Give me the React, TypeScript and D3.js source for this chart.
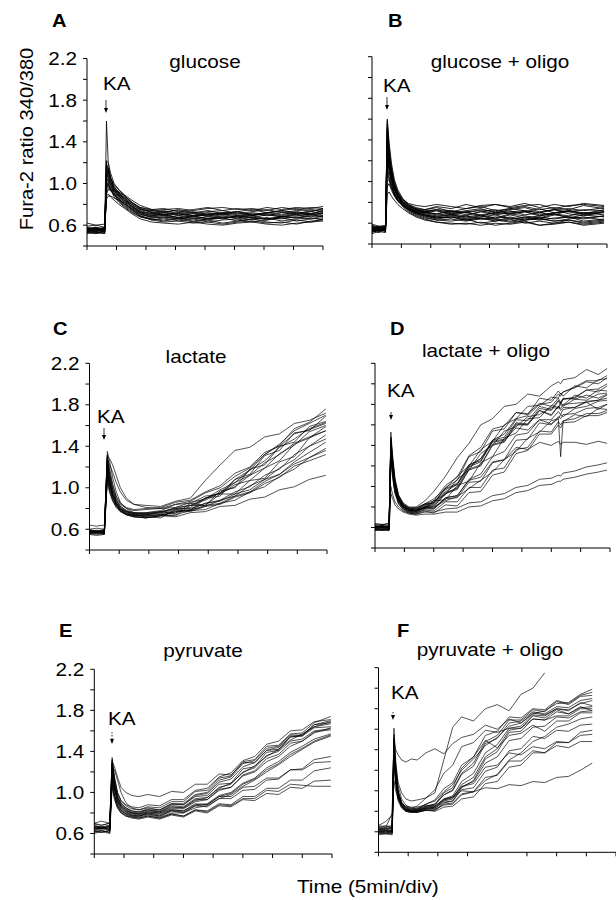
import React from 'react';
import * as d3 from 'd3';

// time points in minutes (5 min per division, 8 divisions)
const timeA = [0, 1.5, 3.0, 3.3, 3.6, 4.0, 4.6, 5.4, 6.4, 7.6, 9, 11, 13, 15.5, 18, 20.5, 23, 25.5, 28, 30.5, 33, 35.5, 38, 40];
const tracesA = [
  [0.56,0.54,0.56,1.60,1.20,1.05,0.95,0.90,0.84,0.78,0.74,0.71,0.73,0.70,0.72,0.69,0.71,0.73,0.70,0.72,0.70,0.73,0.71,0.74],
  [0.54,0.56,0.54,1.22,1.20,1.10,1.00,0.94,0.88,0.82,0.76,0.72,0.74,0.71,0.69,0.72,0.70,0.68,0.71,0.69,0.72,0.70,0.73,0.71],
  [0.55,0.53,0.54,1.20,1.12,1.02,0.94,0.88,0.83,0.78,0.72,0.69,0.71,0.67,0.69,0.66,0.68,0.67,0.69,0.66,0.68,0.67,0.69,0.68],
  [0.58,0.56,0.58,1.08,1.15,1.05,0.97,0.92,0.87,0.82,0.77,0.74,0.72,0.75,0.72,0.74,0.71,0.73,0.75,0.72,0.74,0.76,0.73,0.76],
  [0.52,0.53,0.52,1.00,0.98,0.94,0.89,0.84,0.79,0.74,0.69,0.66,0.64,0.66,0.63,0.65,0.62,0.64,0.66,0.63,0.62,0.65,0.63,0.66],
  [0.56,0.58,0.55,0.95,1.02,1.00,0.95,0.91,0.86,0.81,0.77,0.75,0.76,0.73,0.75,0.77,0.74,0.76,0.74,0.77,0.75,0.77,0.76,0.78],
  [0.57,0.55,0.57,1.05,1.02,0.94,0.87,0.82,0.77,0.72,0.68,0.65,0.67,0.64,0.66,0.63,0.65,0.66,0.63,0.65,0.67,0.64,0.66,0.67],
  [0.54,0.56,0.55,0.92,0.95,0.93,0.90,0.86,0.82,0.77,0.72,0.69,0.70,0.67,0.69,0.70,0.67,0.69,0.67,0.70,0.68,0.69,0.71,0.69],
  [0.55,0.57,0.54,0.98,1.12,1.06,0.99,0.94,0.89,0.84,0.79,0.75,0.73,0.74,0.71,0.73,0.74,0.71,0.73,0.75,0.72,0.74,0.75,0.73],
  [0.53,0.54,0.52,0.88,0.90,0.87,0.84,0.80,0.76,0.71,0.66,0.63,0.62,0.61,0.63,0.61,0.60,0.62,0.63,0.61,0.60,0.62,0.63,0.64],
  [0.59,0.60,0.58,1.02,1.04,0.98,0.93,0.88,0.83,0.78,0.73,0.71,0.69,0.71,0.68,0.70,0.71,0.69,0.72,0.70,0.68,0.71,0.70,0.72],
  [0.56,0.57,0.57,0.85,0.88,0.88,0.86,0.84,0.81,0.76,0.71,0.68,0.69,0.66,0.68,0.66,0.69,0.66,0.68,0.65,0.68,0.67,0.70,0.68],
  [0.55,0.54,0.55,1.12,1.10,1.02,0.95,0.89,0.84,0.80,0.75,0.73,0.70,0.72,0.73,0.70,0.72,0.73,0.70,0.72,0.74,0.72,0.71,0.74],
  [0.54,0.52,0.55,0.94,0.97,0.94,0.89,0.83,0.78,0.73,0.68,0.66,0.65,0.67,0.64,0.66,0.67,0.64,0.66,0.67,0.64,0.66,0.67,0.65],
  [0.62,0.60,0.61,0.90,0.94,0.94,0.93,0.92,0.88,0.82,0.76,0.72,0.70,0.72,0.69,0.71,0.72,0.70,0.69,0.72,0.73,0.71,0.74,0.75],
  [0.57,0.56,0.57,1.15,1.08,0.98,0.91,0.85,0.80,0.75,0.70,0.68,0.67,0.69,0.66,0.68,0.66,0.69,0.67,0.66,0.68,0.70,0.68,0.71],
  [0.55,0.57,0.56,1.18,1.14,1.05,0.97,0.91,0.85,0.79,0.73,0.70,0.72,0.69,0.71,0.68,0.70,0.72,0.69,0.71,0.69,0.72,0.70,0.72],
  [0.53,0.52,0.53,0.96,0.99,0.96,0.92,0.87,0.81,0.75,0.69,0.65,0.63,0.64,0.62,0.63,0.61,0.63,0.64,0.62,0.63,0.61,0.64,0.65],
  [0.57,0.58,0.56,1.10,1.06,0.99,0.93,0.89,0.86,0.80,0.75,0.74,0.75,0.76,0.74,0.76,0.77,0.75,0.76,0.74,0.77,0.75,0.77,0.76],
  [0.54,0.55,0.54,1.00,1.00,0.95,0.90,0.85,0.80,0.76,0.71,0.67,0.68,0.66,0.67,0.65,0.67,0.68,0.65,0.67,0.66,0.68,0.66,0.69],
];

const timeB = [0, 1.2, 2.3, 2.6, 2.9, 3.3, 3.8, 4.4, 5.2, 6.2, 7.5, 9, 11, 13.5, 16, 18.5, 21, 23.5, 26, 28.5, 31, 33.5, 36, 39.5];
const tracesB = [
  [0.54,0.52,0.55,1.60,1.38,1.18,1.02,0.92,0.84,0.78,0.74,0.71,0.72,0.68,0.71,0.67,0.70,0.72,0.68,0.70,0.73,0.69,0.67,0.71],
  [0.51,0.54,0.53,1.55,1.30,1.12,0.98,0.89,0.81,0.76,0.71,0.68,0.66,0.68,0.65,0.67,0.64,0.68,0.65,0.67,0.69,0.65,0.68,0.66],
  [0.57,0.55,0.56,1.50,1.28,1.10,0.96,0.88,0.82,0.78,0.75,0.73,0.75,0.71,0.74,0.76,0.72,0.74,0.76,0.73,0.75,0.73,0.77,0.74],
  [0.53,0.51,0.54,1.45,1.22,1.05,0.94,0.86,0.79,0.74,0.70,0.67,0.64,0.66,0.63,0.65,0.62,0.66,0.63,0.65,0.62,0.64,0.66,0.63],
  [0.55,0.57,0.54,1.40,1.20,1.06,0.95,0.87,0.81,0.77,0.73,0.71,0.69,0.72,0.68,0.71,0.73,0.69,0.71,0.74,0.70,0.72,0.69,0.73],
  [0.58,0.56,0.57,1.35,1.18,1.04,0.93,0.85,0.78,0.73,0.69,0.66,0.63,0.62,0.64,0.60,0.62,0.64,0.60,0.62,0.60,0.63,0.60,0.62],
  [0.54,0.56,0.53,1.30,1.15,1.02,0.92,0.86,0.80,0.76,0.74,0.73,0.76,0.74,0.78,0.75,0.78,0.76,0.79,0.75,0.78,0.76,0.79,0.77],
  [0.50,0.52,0.51,1.25,1.10,0.98,0.88,0.82,0.76,0.71,0.67,0.64,0.61,0.60,0.59,0.61,0.58,0.60,0.62,0.58,0.60,0.61,0.59,0.61],
  [0.56,0.55,0.57,1.20,1.12,1.00,0.90,0.83,0.78,0.74,0.71,0.69,0.67,0.68,0.66,0.68,0.65,0.69,0.67,0.65,0.69,0.67,0.70,0.68],
  [0.55,0.53,0.55,1.15,1.05,0.96,0.88,0.82,0.77,0.73,0.70,0.68,0.65,0.67,0.64,0.66,0.68,0.64,0.66,0.64,0.68,0.66,0.64,0.67],
  [0.53,0.54,0.52,1.10,1.02,0.94,0.87,0.81,0.77,0.74,0.71,0.70,0.72,0.69,0.71,0.72,0.69,0.71,0.72,0.70,0.68,0.72,0.70,0.71],
  [0.59,0.57,0.58,0.95,0.98,0.92,0.86,0.81,0.78,0.75,0.72,0.71,0.73,0.70,0.72,0.74,0.70,0.73,0.75,0.71,0.73,0.74,0.72,0.75],
  [0.52,0.53,0.54,0.88,0.90,0.86,0.82,0.78,0.74,0.70,0.66,0.63,0.61,0.59,0.60,0.58,0.60,0.59,0.61,0.58,0.59,0.61,0.58,0.60],
  [0.55,0.57,0.56,1.48,1.25,1.08,0.96,0.87,0.80,0.75,0.72,0.70,0.68,0.69,0.67,0.71,0.68,0.70,0.71,0.67,0.70,0.71,0.68,0.70],
  [0.54,0.53,0.55,1.42,1.24,1.08,0.97,0.89,0.83,0.79,0.77,0.76,0.78,0.76,0.74,0.77,0.78,0.75,0.77,0.78,0.74,0.77,0.78,0.76],
  [0.56,0.54,0.55,1.32,1.16,1.03,0.92,0.84,0.78,0.73,0.69,0.67,0.65,0.66,0.63,0.65,0.64,0.62,0.65,0.63,0.65,0.66,0.62,0.64],
  [0.53,0.55,0.54,1.58,1.34,1.14,1.00,0.90,0.83,0.77,0.73,0.70,0.69,0.71,0.70,0.68,0.70,0.69,0.71,0.68,0.70,0.72,0.69,0.71],
  [0.57,0.55,0.56,1.52,1.27,1.09,0.95,0.86,0.79,0.74,0.70,0.68,0.66,0.65,0.67,0.64,0.66,0.65,0.63,0.66,0.64,0.66,0.65,0.67],
  [0.52,0.54,0.52,1.38,1.20,1.04,0.93,0.85,0.80,0.76,0.73,0.72,0.73,0.72,0.70,0.73,0.71,0.74,0.72,0.70,0.73,0.71,0.73,0.72],
  [0.55,0.56,0.55,1.00,1.02,0.95,0.88,0.82,0.77,0.72,0.68,0.65,0.63,0.64,0.62,0.64,0.63,0.61,0.63,0.64,0.62,0.63,0.61,0.63],
];

const timeC = [0, 1.2, 2.5, 3.0, 3.4, 3.9, 4.5, 5.2, 6.2, 7.5, 9.5, 12, 14.5, 17, 19.5, 22, 24.5, 27, 29.5, 32, 34.5, 37, 39.8];
const tracesC = [
  [0.58,0.57,0.58,1.28,1.22,1.15,1.05,0.96,0.88,0.84,0.83,0.82,0.87,0.90,1.07,1.22,1.36,1.39,1.49,1.52,1.62,1.65,1.72],
  [0.57,0.59,0.57,1.35,1.25,1.10,0.96,0.86,0.80,0.76,0.74,0.76,0.79,0.81,0.90,0.95,1.08,1.17,1.32,1.41,1.57,1.63,1.76],
  [0.60,0.58,0.60,1.30,1.12,0.98,0.88,0.82,0.78,0.74,0.72,0.74,0.73,0.83,0.83,0.97,1.00,1.18,1.22,1.40,1.44,1.59,1.64],
  [0.56,0.55,0.56,1.25,1.08,0.95,0.86,0.80,0.76,0.73,0.72,0.71,0.79,0.78,0.90,0.92,1.08,1.13,1.31,1.36,1.53,1.55,1.69],
  [0.58,0.57,0.58,1.20,1.05,0.93,0.85,0.79,0.75,0.73,0.74,0.77,0.75,0.85,0.83,0.94,0.94,1.07,1.09,1.25,1.30,1.48,1.55],
  [0.55,0.56,0.55,1.15,1.02,0.92,0.84,0.78,0.74,0.72,0.71,0.73,0.77,0.79,0.85,0.88,0.96,1.01,1.12,1.18,1.32,1.40,1.51],
  [0.59,0.58,0.59,1.28,1.15,1.02,0.91,0.84,0.80,0.78,0.79,0.80,0.84,0.85,0.92,0.94,1.03,1.07,1.19,1.26,1.42,1.48,1.59],
  [0.57,0.58,0.57,1.10,0.98,0.89,0.82,0.77,0.74,0.72,0.71,0.73,0.74,0.78,0.79,0.85,0.88,0.96,1.01,1.11,1.18,1.29,1.36],
  [0.56,0.57,0.56,1.22,1.06,0.94,0.85,0.80,0.77,0.75,0.74,0.75,0.78,0.78,0.83,0.85,0.92,0.96,1.06,1.13,1.25,1.34,1.44],
  [0.64,0.63,0.64,1.05,0.95,0.87,0.81,0.77,0.74,0.72,0.71,0.73,0.72,0.76,0.77,0.82,0.83,0.89,0.91,0.98,1.01,1.08,1.12],
  [0.58,0.59,0.58,1.32,1.18,1.04,0.92,0.85,0.81,0.79,0.80,0.81,0.86,0.88,0.96,1.02,1.14,1.20,1.34,1.40,1.52,1.56,1.62],
  [0.57,0.56,0.57,1.18,1.04,0.93,0.85,0.80,0.77,0.76,0.76,0.77,0.80,0.80,0.85,0.87,0.94,0.98,1.08,1.13,1.23,1.29,1.38],
  [0.60,0.61,0.60,1.30,1.28,1.22,1.12,1.00,0.90,0.84,0.81,0.80,0.81,0.86,0.89,0.98,1.05,1.17,1.26,1.39,1.47,1.57,1.63],
  [0.55,0.54,0.55,1.12,1.00,0.90,0.83,0.78,0.75,0.74,0.75,0.76,0.81,0.83,0.90,0.95,1.05,1.12,1.24,1.32,1.43,1.49,1.55],
  [0.58,0.57,0.58,1.24,1.10,0.97,0.87,0.81,0.77,0.75,0.76,0.78,0.84,0.87,0.95,1.00,1.11,1.19,1.32,1.42,1.55,1.62,1.70],
  [0.56,0.57,0.56,1.08,0.97,0.88,0.82,0.78,0.75,0.73,0.73,0.74,0.77,0.77,0.82,0.84,0.91,0.95,1.04,1.10,1.21,1.26,1.32],
  [0.57,0.58,0.57,1.26,1.12,0.99,0.89,0.82,0.78,0.76,0.75,0.77,0.80,0.83,0.88,0.95,1.01,1.12,1.19,1.33,1.41,1.54,1.60],
  [0.59,0.57,0.59,1.16,1.03,0.92,0.84,0.79,0.76,0.74,0.73,0.74,0.76,0.79,0.82,0.88,0.92,1.02,1.08,1.19,1.27,1.40,1.47],
];

const timeD = [0, 1.2, 2.4, 2.7, 3.0, 3.4, 4.0, 4.8, 5.8, 7, 8.5, 10, 12, 14, 16, 18, 20, 22, 24, 26, 28, 30, 31.2, 31.6, 32, 34, 36, 38, 39.5];
const tracesD = [
  [0.60,0.62,0.60,1.53,1.30,1.08,0.92,0.84,0.80,0.80,0.86,0.95,1.10,1.28,1.42,1.60,1.66,1.78,1.80,1.90,1.88,1.98,2.02,2.00,2.04,2.06,2.14,2.09,2.15],
  [0.62,0.60,0.62,1.45,1.25,1.05,0.90,0.82,0.78,0.77,0.82,0.84,0.99,1.06,1.29,1.34,1.54,1.56,1.72,1.70,1.86,1.84,1.93,1.90,1.92,1.97,2.03,2.03,2.08],
  [0.58,0.60,0.58,1.40,1.22,1.02,0.88,0.80,0.76,0.75,0.79,0.80,0.93,0.99,1.19,1.24,1.44,1.46,1.62,1.61,1.76,1.74,1.83,1.80,1.85,1.86,1.94,1.92,1.98],
  [0.60,0.61,0.60,1.38,1.18,0.98,0.86,0.79,0.76,0.77,0.79,0.86,0.92,1.07,1.16,1.32,1.40,1.54,1.58,1.68,1.70,1.77,1.76,1.80,1.78,1.85,1.84,1.90,1.91],
  [0.63,0.62,0.64,1.42,1.20,1.00,0.88,0.81,0.78,0.79,0.78,0.86,0.87,1.01,1.05,1.23,1.29,1.47,1.52,1.66,1.67,1.79,1.77,1.82,1.79,1.89,1.86,1.94,1.93],
  [0.59,0.57,0.59,1.35,1.15,0.97,0.86,0.80,0.77,0.76,0.80,0.79,0.89,0.91,1.07,1.12,1.29,1.34,1.50,1.52,1.65,1.65,1.73,1.70,1.75,1.77,1.83,1.84,1.89],
  [0.61,0.62,0.61,1.36,1.16,0.99,0.87,0.80,0.77,0.77,0.82,0.84,0.98,1.03,1.21,1.27,1.43,1.45,1.57,1.55,1.65,1.61,1.66,1.29,1.63,1.70,1.68,1.76,1.75],
  [0.57,0.58,0.57,1.30,1.12,0.95,0.84,0.78,0.75,0.74,0.78,0.78,0.89,0.91,1.06,1.09,1.24,1.26,1.38,1.36,1.43,1.40,1.44,1.41,1.43,1.43,1.41,1.44,1.42],
  [0.60,0.59,0.60,1.00,0.92,0.85,0.80,0.76,0.74,0.73,0.75,0.75,0.78,0.79,0.84,0.85,0.91,0.93,0.99,1.01,1.07,1.08,1.11,1.10,1.13,1.15,1.19,1.21,1.23],
  [0.58,0.57,0.58,0.93,0.88,0.82,0.78,0.75,0.73,0.72,0.73,0.73,0.75,0.75,0.80,0.81,0.86,0.88,0.94,0.96,1.01,1.02,1.05,1.05,1.07,1.09,1.12,1.14,1.16],
  [0.61,0.60,0.61,1.44,1.24,1.03,0.89,0.81,0.77,0.76,0.80,0.81,0.93,0.97,1.16,1.20,1.40,1.43,1.60,1.60,1.74,1.70,1.78,1.76,1.80,1.81,1.82,1.84,1.86],
  [0.59,0.60,0.59,1.32,1.14,0.96,0.85,0.79,0.76,0.75,0.79,0.78,0.88,0.89,1.04,1.05,1.23,1.26,1.45,1.46,1.62,1.60,1.68,1.66,1.70,1.71,1.76,1.77,1.80],
  [0.62,0.63,0.62,1.47,1.26,1.05,0.91,0.83,0.79,0.79,0.83,0.88,0.98,1.10,1.20,1.36,1.44,1.60,1.66,1.78,1.79,1.87,1.86,1.91,1.88,1.98,1.96,2.04,2.05],
  [0.57,0.58,0.57,1.28,1.10,0.94,0.84,0.78,0.75,0.74,0.77,0.76,0.85,0.85,0.99,0.99,1.16,1.18,1.36,1.38,1.54,1.53,1.63,1.60,1.64,1.66,1.71,1.71,1.74],
  [0.60,0.61,0.60,1.38,1.19,1.00,0.87,0.80,0.77,0.76,0.81,0.82,0.94,0.98,1.17,1.21,1.41,1.44,1.61,1.60,1.74,1.69,1.78,1.74,1.77,1.77,1.82,1.75,1.80],
  [0.64,0.63,0.64,1.40,1.21,1.02,0.89,0.82,0.79,0.79,0.83,0.84,0.97,1.02,1.21,1.25,1.45,1.48,1.65,1.64,1.78,1.75,1.84,1.81,1.85,1.87,1.94,1.95,2.00],
  [0.58,0.59,0.58,1.25,1.08,0.93,0.83,0.77,0.74,0.73,0.76,0.74,0.82,0.81,0.94,0.95,1.11,1.14,1.32,1.35,1.51,1.51,1.60,1.57,1.62,1.63,1.69,1.69,1.72],
  [0.61,0.60,0.61,1.48,1.27,1.06,0.91,0.83,0.79,0.78,0.83,0.86,1.01,1.09,1.30,1.38,1.56,1.59,1.72,1.71,1.81,1.78,1.86,1.82,1.86,1.85,1.89,1.86,1.90],
  [0.60,0.61,0.60,1.34,1.15,0.98,0.87,0.81,0.78,0.77,0.80,0.80,0.86,0.90,0.98,1.06,1.14,1.26,1.34,1.47,1.53,1.64,1.66,1.70,1.68,1.76,1.78,1.83,1.84],
  [0.59,0.58,0.59,1.42,1.22,1.02,0.88,0.81,0.77,0.76,0.80,0.83,0.95,1.02,1.19,1.27,1.45,1.51,1.66,1.69,1.80,1.82,1.90,1.88,1.92,1.96,2.02,2.00,2.06],
];

const timeE = [0, 1.2, 2.6, 3.0, 3.4, 3.9, 4.5, 5.3, 6.3, 7.5, 9, 11, 13, 15, 17, 19, 21, 23, 25, 27, 29, 31, 33, 35, 37, 39.8];
const tracesE = [
  [0.70,0.68,0.70,1.30,1.25,1.15,1.05,1.00,0.97,0.96,0.98,0.96,1.01,1.00,1.08,1.08,1.18,1.17,1.29,1.29,1.41,1.42,1.55,1.55,1.66,1.70],
  [0.66,0.65,0.67,1.34,1.15,1.00,0.92,0.87,0.84,0.83,0.85,0.83,0.89,0.88,0.96,0.97,1.08,1.09,1.23,1.25,1.39,1.41,1.54,1.56,1.66,1.68],
  [0.63,0.65,0.63,1.28,1.10,0.96,0.89,0.85,0.82,0.81,0.83,0.81,0.86,0.85,0.93,0.93,1.03,1.05,1.16,1.20,1.30,1.35,1.45,1.50,1.58,1.63],
  [0.68,0.66,0.68,1.25,1.22,1.12,1.00,0.90,0.85,0.83,0.86,0.85,0.91,0.91,1.01,1.02,1.14,1.16,1.30,1.32,1.45,1.46,1.57,1.58,1.68,1.74],
  [0.61,0.63,0.61,1.22,1.05,0.92,0.85,0.81,0.78,0.77,0.79,0.77,0.82,0.81,0.87,0.88,0.96,0.99,1.08,1.13,1.22,1.28,1.37,1.43,1.50,1.56],
  [0.65,0.66,0.64,1.20,1.04,0.92,0.86,0.82,0.80,0.79,0.82,0.81,0.87,0.86,0.94,0.95,1.05,1.08,1.20,1.24,1.36,1.40,1.50,1.52,1.60,1.62],
  [0.67,0.65,0.67,1.30,1.12,0.98,0.90,0.85,0.82,0.81,0.84,0.83,0.89,0.89,0.98,1.00,1.12,1.15,1.28,1.31,1.43,1.45,1.56,1.56,1.64,1.67],
  [0.62,0.63,0.61,1.18,1.02,0.90,0.83,0.79,0.77,0.76,0.78,0.76,0.80,0.80,0.85,0.87,0.94,0.98,1.06,1.12,1.20,1.27,1.35,1.42,1.49,1.55],
  [0.64,0.65,0.64,1.15,0.98,0.87,0.81,0.78,0.76,0.75,0.77,0.75,0.79,0.77,0.83,0.82,0.89,0.88,0.96,0.96,1.04,1.04,1.12,1.12,1.21,1.24],
  [0.69,0.68,0.70,1.10,0.96,0.87,0.82,0.79,0.77,0.77,0.79,0.77,0.82,0.80,0.87,0.86,0.94,0.94,1.02,1.03,1.12,1.13,1.22,1.23,1.32,1.35],
  [0.60,0.62,0.60,1.05,0.93,0.85,0.80,0.77,0.75,0.74,0.76,0.74,0.78,0.76,0.82,0.80,0.87,0.86,0.93,0.92,0.99,0.98,1.05,1.04,1.11,1.12],
  [0.66,0.67,0.65,1.12,0.97,0.88,0.83,0.80,0.78,0.77,0.80,0.78,0.83,0.82,0.89,0.88,0.96,0.96,1.05,1.06,1.14,1.14,1.22,1.22,1.29,1.30],
  [0.63,0.61,0.63,1.26,1.08,0.95,0.88,0.84,0.81,0.80,0.83,0.82,0.88,0.88,0.97,0.99,1.10,1.13,1.25,1.29,1.41,1.44,1.54,1.55,1.63,1.64],
  [0.70,0.72,0.70,1.32,1.14,1.00,0.92,0.88,0.86,0.85,0.88,0.87,0.93,0.93,1.02,1.04,1.15,1.19,1.31,1.35,1.47,1.50,1.60,1.61,1.69,1.71],
  [0.62,0.61,0.63,1.08,0.94,0.85,0.80,0.77,0.76,0.75,0.77,0.75,0.79,0.77,0.83,0.81,0.88,0.87,0.94,0.94,1.02,1.01,1.08,1.07,1.06,1.06],
  [0.65,0.64,0.66,1.24,1.07,0.94,0.87,0.83,0.80,0.79,0.81,0.80,0.84,0.84,0.91,0.93,1.02,1.05,1.17,1.21,1.33,1.37,1.48,1.50,1.59,1.61],
  [0.64,0.66,0.64,1.28,1.09,0.95,0.87,0.83,0.80,0.79,0.81,0.80,0.85,0.85,0.92,0.95,1.04,1.09,1.19,1.26,1.35,1.42,1.51,1.57,1.64,1.69],
  [0.67,0.66,0.68,1.20,1.03,0.91,0.85,0.81,0.79,0.78,0.80,0.79,0.83,0.82,0.88,0.89,0.97,1.00,1.09,1.14,1.24,1.30,1.39,1.45,1.52,1.57],
];

const timeF = [0, 1.2, 2.3, 2.6, 2.9, 3.3, 3.9, 4.6, 5.5, 6.5, 8, 9.5, 11, 12.5, 14, 16, 18, 20, 22, 24, 26, 28, 30, 32, 34, 36];
const tracesF = [
  [0.62,0.63,0.64,1.45,1.25,1.08,0.98,0.92,0.90,0.91,0.93,0.98,1.30,1.62,1.72,1.68,1.80,1.84,1.78,1.94,2.00,2.15,null,null,null,null],
  [0.66,0.70,0.76,1.50,1.40,1.35,1.30,1.28,1.31,1.30,1.37,1.41,1.36,1.46,1.52,1.55,1.64,1.60,1.70,1.66,1.76,1.74,1.80,1.78,1.86,1.83],
  [0.60,0.59,0.60,1.10,1.00,0.92,0.87,0.85,0.84,0.84,0.86,0.85,0.91,0.94,1.00,0.99,1.03,1.02,1.06,1.05,1.09,1.08,1.13,1.14,1.20,1.27],
  [0.63,0.62,0.63,1.61,1.30,1.05,0.92,0.86,0.83,0.82,0.85,0.87,0.98,1.03,1.22,1.33,1.54,1.58,1.72,1.71,1.80,1.79,1.88,1.85,1.93,1.96],
  [0.60,0.61,0.60,1.55,1.24,1.00,0.88,0.83,0.81,0.81,0.84,0.86,0.96,1.00,1.16,1.24,1.46,1.51,1.66,1.68,1.77,1.75,1.82,1.81,1.88,1.90],
  [0.65,0.63,0.65,1.50,1.20,0.98,0.87,0.82,0.80,0.80,0.83,0.84,0.92,0.95,1.09,1.17,1.37,1.45,1.61,1.63,1.74,1.73,1.80,1.79,1.85,1.88],
  [0.58,0.59,0.58,1.42,1.15,0.95,0.85,0.80,0.79,0.79,0.81,0.81,0.88,0.90,1.03,1.10,1.31,1.38,1.57,1.58,1.70,1.69,1.77,1.75,1.81,1.82],
  [0.62,0.61,0.62,1.38,1.12,0.94,0.85,0.81,0.80,0.80,0.82,0.83,0.90,0.92,1.04,1.09,1.27,1.33,1.49,1.51,1.62,1.63,1.72,1.71,1.77,1.78],
  [0.64,0.66,0.64,1.35,1.10,0.93,0.85,0.81,0.80,0.81,0.84,0.85,0.92,0.94,1.04,1.07,1.23,1.25,1.37,1.35,1.43,1.41,1.48,1.47,1.54,1.55],
  [0.59,0.58,0.59,1.30,1.08,0.92,0.84,0.80,0.79,0.79,0.81,0.81,0.87,0.88,0.97,0.99,1.13,1.15,1.29,1.29,1.39,1.37,1.44,1.42,1.48,1.48],
  [0.61,0.62,0.61,1.46,1.18,0.97,0.86,0.82,0.81,0.82,0.87,0.91,1.02,1.08,1.25,1.33,1.49,1.42,1.54,1.56,1.64,1.58,1.68,1.68,1.76,1.76],
  [0.63,0.64,0.63,1.40,1.15,0.97,0.88,0.84,0.83,0.85,0.93,1.01,1.17,1.25,1.43,1.47,1.59,1.57,1.61,1.61,1.70,1.69,1.73,1.73,1.80,1.80],
  [0.57,0.58,0.57,1.25,1.05,0.90,0.83,0.80,0.79,0.79,0.81,0.80,0.84,0.85,0.92,0.94,1.07,1.09,1.23,1.25,1.37,1.37,1.47,1.47,1.57,1.59],
  [0.66,0.65,0.66,1.52,1.22,1.00,0.89,0.84,0.82,0.82,0.85,0.87,0.96,1.01,1.17,1.27,1.48,1.54,1.69,1.69,1.79,1.77,1.87,1.84,1.92,1.93],
  [0.61,0.60,0.61,1.33,1.10,0.93,0.85,0.81,0.80,0.80,0.83,0.84,0.91,0.93,1.06,1.13,1.33,1.41,1.59,1.61,1.73,1.71,1.79,1.75,1.82,1.78],
  [0.60,0.61,0.60,1.36,1.12,0.94,0.86,0.82,0.81,0.81,0.83,0.83,0.89,0.90,1.01,1.03,1.19,1.23,1.39,1.41,1.53,1.51,1.59,1.58,1.64,1.65],
  [0.62,0.64,0.78,1.48,1.20,0.99,0.88,0.83,0.82,0.83,0.87,0.90,0.99,1.06,1.20,1.31,1.44,1.52,1.63,1.66,1.75,1.78,1.85,1.86,1.94,1.99],
  [0.59,0.60,0.59,1.40,1.14,0.95,0.86,0.81,0.80,0.80,0.82,0.82,0.86,0.87,0.96,0.99,1.10,1.16,1.30,1.37,1.48,1.53,1.62,1.65,1.70,1.72],
];

const yTicks = [0.4, 0.6, 0.8, 1.0, 1.2, 1.4, 1.6, 1.8, 2.0, 2.2];
const yTickLabels = [0.6, 1.0, 1.4, 1.8, 2.2];
const xTicks = [0, 5, 10, 15, 20, 25, 30, 35, 40];
const xTicksF = [0, 5, 10, 15, 25, 30, 35, 40];

const panelLetters = ['A', 'B', 'C', 'D', 'E', 'F'];
const panelTitles = ['glucose', 'glucose + oligo', 'lactate', 'lactate + oligo', 'pyruvate', 'pyruvate + oligo'];
const yTitle = 'Fura-2 ratio 340/380';
const xTitle = 'Time (5min/div)';

// layout of each panel on the page
const layout = [
  { x0: 87, x1: 323, yTop: 58.5, yBot: 246, labels: true, letter: [52, 27], title: [205, 68], ka: [103, 90], arrow: [106, 100, 113], dashed: false, sw: 0.9 },
  { x0: 372, x1: 607, yTop: 56.7, yBot: 244, labels: false, letter: [388, 27], title: [500, 68], ka: [383, 92], arrow: [387, 97, 110], dashed: false, sw: 0.95 },
  { x0: 89.5, x1: 327, yTop: 363.3, yBot: 550, labels: true, letter: [53, 335], title: [196, 363], ka: [97, 423], arrow: [104, 428, 440], dashed: false, sw: 0.75 },
  { x0: 375, x1: 610, yTop: 363.3, yBot: 548, labels: false, letter: [390, 335], title: [486, 357], ka: [387, 397], arrow: [391, 412, 420], dashed: false, sw: 0.75 },
  { x0: 94.3, x1: 332, yTop: 669.3, yBot: 854, labels: true, letter: [59, 637], title: [203, 657], ka: [108, 725], arrow: [112, 732, 744], dashed: true, sw: 0.75 },
  { x0: 378.5, x1: 616, yTop: 667.7, yBot: 852.3, labels: false, letter: [397, 637], title: [490, 656], ka: [391, 699], arrow: [393, 712, 720], dashed: true, sw: 0.75 },
];

const times = [timeA, timeB, timeC, timeD, timeE, timeF];
const traces = [tracesA, tracesB, tracesC, tracesD, tracesE, tracesF];

const FONT = '"Liberation Sans", Arial, Helvetica, sans-serif';
const SX = 1.15; // the scan is a little wider than tall

function Txt({ x, y, size = 18, anchor = 'start', weight = 'normal', rotate = 0, sx = SX, children }: any) {
  const tf = `translate(${x},${y})` + (rotate ? ` rotate(${rotate})` : '') + ` scale(${sx},1)`;
  return (
    <text transform={tf} fontSize={size} textAnchor={anchor} fontWeight={weight} fontFamily={FONT} fill="#000">
      {children}
    </text>
  );
}

function Panel({ i }: { i: number }) {
  const L = layout[i];
  const x = d3.scaleLinear().domain([0, 40]).range([L.x0, L.x1]);
  const y = d3.scaleLinear().domain([0.4, 2.2]).range([L.yBot, L.yTop]);
  const t = times[i];
  const line = d3.line<number | null>()
    .defined(v => v != null)
    .x((_, k) => x(t[k]))
    .y(v => y(v as number));
  const ticksX = i === 5 ? xTicksF : xTicks;
  const [ax, ay1, ay2] = L.arrow;

  return (
    <g>
      <g>
        {traces[i].map((tr, k) => (
          <path key={k} d={line(tr) || ''} fill="none" stroke="#000" strokeWidth={L.sw} strokeOpacity={0.9} />
        ))}
      </g>
      {/* axes */}
      <line x1={L.x0} x2={L.x0} y1={y(2.2)} y2={y(0.4)} stroke="#000" strokeWidth={1} />
      <line x1={L.x0} x2={L.x1} y1={L.yBot} y2={L.yBot} stroke="#000" strokeWidth={1} />
      {yTicks.map(v => (
        <line key={v} x1={L.x0 - 4} x2={L.x0} y1={y(v)} y2={y(v)} stroke="#000" strokeWidth={1} />
      ))}
      {ticksX.map(v => (
        <line key={v} x1={x(v)} x2={x(v)} y1={L.yBot} y2={L.yBot + 4} stroke="#000" strokeWidth={1} />
      ))}
      {L.labels && yTickLabels.map(v => (
        <Txt key={v} x={L.x0 - 10} y={y(v) + 6.5} anchor="end">{d3.format('.1f')(v)}</Txt>
      ))}
      {/* letter, title, KA marker */}
      <Txt x={L.letter[0]} y={L.letter[1]} size={17.5} weight="bold">{panelLetters[i]}</Txt>
      <Txt x={L.title[0]} y={L.title[1]} anchor="middle">{panelTitles[i]}</Txt>
      <Txt x={L.ka[0]} y={L.ka[1]}>KA</Txt>
      <line x1={ax} x2={ax} y1={ay1} y2={ay2 - 4} stroke="#000" strokeWidth={0.8}
        strokeDasharray={L.dashed ? '1.5 1.5' : undefined} />
      <path d={`M${ax - 2},${ay2 - 5}L${ax + 2},${ay2 - 5}L${ax},${ay2}Z`} fill="#000" />
    </g>
  );
}

export default function App() {
  return (
    <svg width={616} height={900} style={{ position: 'absolute', left: 0, top: 0, background: '#fff' }}>
      <rect width={616} height={900} fill="#fff" />
      {layout.map((_, i) => <Panel key={i} i={i} />)}
      <Txt x={33} y={139} anchor="middle" rotate={-90} sx={1.12}>{yTitle}</Txt>
      <Txt x={297} y={893}>{xTitle}</Txt>
    </svg>
  );
}
